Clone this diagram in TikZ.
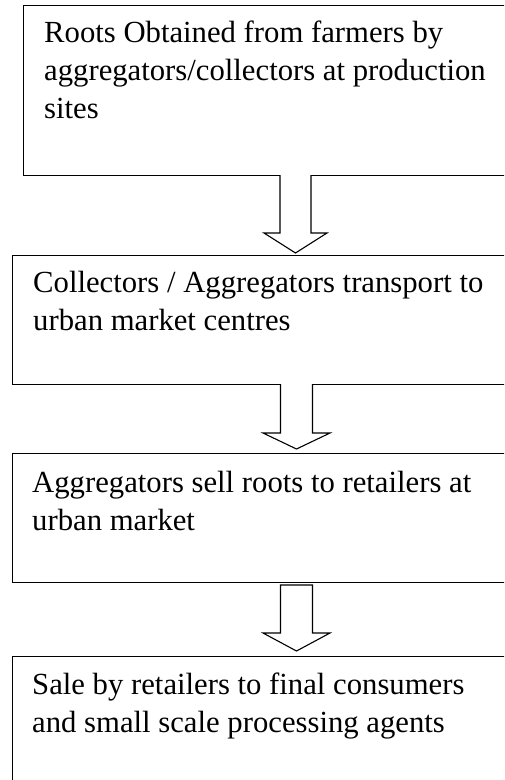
\documentclass[tikz,border=0pt]{standalone}
\usepackage{fontspec}
\setmainfont{Liberation Serif}
\usetikzlibrary{calc}
\begin{document}
\begin{tikzpicture}[x=1pt,y=-1pt,
  box/.style={draw=black, line width=1.4pt, rectangle, anchor=north west, inner sep=0pt},
  txt/.style={anchor=base west, inner sep=0pt, font=\fontsize{30.7}{38}\selectfont},
  blockarrow/.style={draw=black, line width=1.1pt, fill=white, line join=miter}]
\useasboundingbox (0,0) rectangle (504,780);
\begin{scope}
\clip (0,0) rectangle (504,780);
% boxes
\node[box, minimum width=500pt, minimum height=170pt] (b1) at (23,5) {};
\node[box, minimum width=510pt, minimum height=129pt] (b2) at (12,255) {};
\node[box, minimum width=510pt, minimum height=129pt] (b3) at (12,453) {};
\node[box, minimum width=510pt, minimum height=150pt] (b4) at (12,656) {};
% text
\node[txt] (t1a) at (44,42) {Roots Obtained from farmers by};
\node[txt] (t1b) at (44,80) {aggregators/collectors at production};
\node[txt] (t1c) at (44,118) {sites};
\node[txt] (t2a) at (33,292) {Collectors / Aggregators transport to};
\node[txt] (t2b) at (33,330) {urban market centres};
\node[txt] (t3a) at (32,492) {Aggregators sell roots to retailers at};
\node[txt] (t3b) at (32,530) {urban market};
\node[txt] (t4a) at (32,694) {Sale by retailers to final consumers};
\node[txt] (t4b) at (32,732) {and small scale processing agents};
% arrows
\coordinate (a1) at (295.5,175);
\coordinate (a1tip) at (295.5,253);
\draw[blockarrow] ($(a1)+(-15.5,0)$) -- ($(a1)+(-15.5,58)$) -- ($(a1)+(-31.5,58)$)
  -- (a1tip) -- ($(a1)+(31.5,58)$) -- ($(a1)+(15.5,58)$) -- ($(a1)+(15.5,0)$);
\coordinate (a2) at (296.5,384);
\coordinate (a2tip) at (296.5,449);
\draw[blockarrow] ($(a2)+(-16,0)$) -- ($(a2)+(-16,49)$) -- ($(a2)+(-33.5,49)$)
  -- (a2tip) -- ($(a2)+(33.5,49)$) -- ($(a2)+(16,49)$) -- ($(a2)+(16,0)$);
\coordinate (a3) at (296.5,585);
\coordinate (a3tip) at (296.5,651);
\draw[blockarrow] ($(a3)+(-16,0)$) -- ($(a3)+(-16,48)$) -- ($(a3)+(-33.5,48)$)
  -- (a3tip) -- ($(a3)+(33.5,48)$) -- ($(a3)+(16,48)$) -- ($(a3)+(16,0)$) -- cycle;
\end{scope}
\end{tikzpicture}
\end{document}
